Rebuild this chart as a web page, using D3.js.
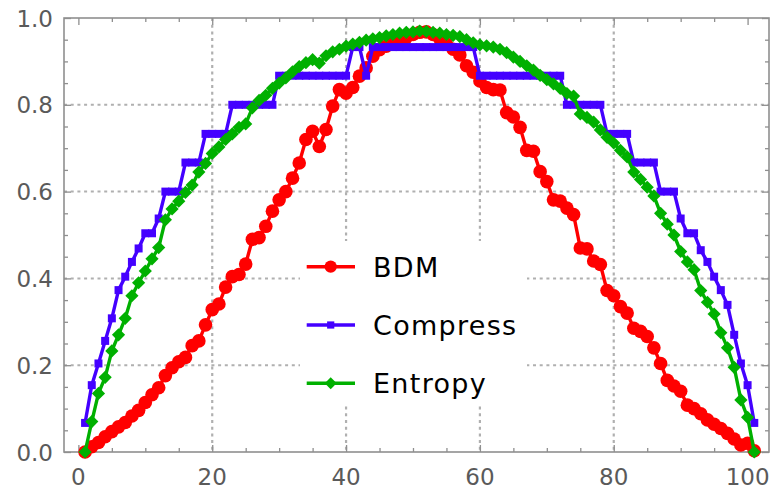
<!DOCTYPE html>
<html>
<head>
<meta charset="utf-8">
<script src="https://cdn.jsdelivr.net/npm/d3@7"></script>
<style>
  body { margin: 0; background: #fff; }
  text { font-family: "DejaVu Sans", "Liberation Sans", Arial, sans-serif; }
</style>
</head>
<body>
<div id="chart-area"></div>
<script>
// values for x = 1..101
const bdm = [
    0, 0.012, 0.022, 0.035, 0.047, 0.058, 0.068, 0.083, 0.096, 0.114,
    0.132, 0.148, 0.176, 0.194, 0.208, 0.218, 0.245, 0.256, 0.293, 0.328,
    0.341, 0.38, 0.404, 0.409, 0.433, 0.49, 0.494, 0.52, 0.555, 0.581,
    0.6, 0.631, 0.666, 0.72, 0.739, 0.704, 0.743, 0.797, 0.835, 0.827,
    0.84, 0.866, 0.885, 0.912, 0.927, 0.935, 0.942, 0.948, 0.955, 0.962,
    0.967, 0.968, 0.962, 0.952, 0.94, 0.928, 0.915, 0.89, 0.875, 0.855,
    0.84, 0.835, 0.834, 0.782, 0.772, 0.748, 0.695, 0.693, 0.646, 0.623,
    0.581, 0.578, 0.562, 0.547, 0.47, 0.468, 0.44, 0.432, 0.372, 0.36,
    0.335, 0.32, 0.285, 0.278, 0.266, 0.24, 0.204, 0.165, 0.152, 0.14,
    0.108, 0.1, 0.088, 0.074, 0.064, 0.054, 0.043, 0.03, 0.016, 0.02,
    0.003
];
const compress = [
    0.067, 0.154, 0.204, 0.256, 0.308, 0.373, 0.404, 0.438, 0.469, 0.504,
    0.504, 0.538, 0.6, 0.6, 0.6, 0.667, 0.667, 0.667, 0.733, 0.733,
    0.733, 0.733, 0.8, 0.8, 0.8, 0.8, 0.8, 0.8, 0.8, 0.867,
    0.867, 0.867, 0.867, 0.867, 0.867, 0.867, 0.867, 0.867, 0.867, 0.867,
    0.933, 0.933, 0.867, 0.933, 0.933, 0.933, 0.933, 0.933, 0.933, 0.933,
    0.933, 0.933, 0.933, 0.933, 0.933, 0.933, 0.933, 0.933, 0.933, 0.867,
    0.867, 0.867, 0.867, 0.867, 0.867, 0.867, 0.867, 0.867, 0.867, 0.867,
    0.867, 0.867, 0.8, 0.8, 0.8, 0.8, 0.8, 0.8, 0.733, 0.733,
    0.733, 0.733, 0.667, 0.667, 0.667, 0.667, 0.6, 0.6, 0.6, 0.538,
    0.504, 0.504, 0.465, 0.438, 0.404, 0.373, 0.339, 0.27, 0.204, 0.154,
    0.067
];
const entropy = [
    0, 0.07, 0.135, 0.172, 0.233, 0.27, 0.308, 0.36, 0.39, 0.417,
    0.445, 0.471, 0.535, 0.56, 0.578, 0.598, 0.615, 0.645, 0.665, 0.688,
    0.703, 0.72, 0.733, 0.748, 0.756, 0.793, 0.81, 0.822, 0.838, 0.85,
    0.862, 0.876, 0.888, 0.897, 0.904, 0.896, 0.913, 0.922, 0.928, 0.935,
    0.94, 0.944, 0.949, 0.952, 0.955, 0.959, 0.962, 0.965, 0.967, 0.968,
    0.97, 0.969, 0.967, 0.965, 0.962, 0.96, 0.957, 0.95, 0.943, 0.938,
    0.936, 0.933, 0.928, 0.92, 0.91, 0.9, 0.89, 0.88, 0.868, 0.858,
    0.848, 0.838, 0.826, 0.82, 0.779, 0.771, 0.76, 0.742, 0.725, 0.712,
    0.695, 0.68, 0.645, 0.628, 0.61, 0.59, 0.55, 0.525, 0.5, 0.462,
    0.438, 0.42, 0.372, 0.345, 0.318, 0.275, 0.24, 0.195, 0.12, 0.08,
    0
];
const xTicks = [0, 20, 40, 60, 80, 100];
const yTicks = [0, 0.2, 0.4, 0.6, 0.8, 1.0];
const xMinor = [0, 5, 10, 15, 20, 25, 30, 35, 40, 45, 50, 55, 60, 65, 70, 75, 80, 85, 90, 95, 100];
const yMinor = [0, 0.05, 0.1, 0.15, 0.2, 0.25, 0.3, 0.35, 0.4, 0.45, 0.5, 0.55, 0.6, 0.65, 0.7, 0.75, 0.8, 0.85, 0.9, 0.95, 1];
const seriesNames = ["BDM", "Compress", "Entropy"];

const width = 778;
const height = 489;
const margin = { left: 64, right: 9, top: 18, bottom: 37 };
const chartWidth = width - margin.left - margin.right;
const chartHeight = height - margin.top - margin.bottom;

const svg = d3.select('#chart-area')
    .append('svg')
    .attr('width', width)
    .attr('height', height);

const g = svg.append('g')
    .attr('transform', `translate(${margin.left}, ${margin.top})`);

const x = d3.scaleLinear().domain([-2.15, 103.2]).range([0, chartWidth]);
const y = d3.scaleLinear().domain([0, 1]).range([chartHeight, 0]);

const frameColor = '#8f8f8f';
const gridColor = '#b0b0b0';

// grid
g.selectAll('.vgrid')
    .data(xTicks.filter(d => d > 0 && d < 100))
    .enter().append('line')
    .attr('x1', d => x(d)).attr('x2', d => x(d))
    .attr('y1', 0).attr('y2', chartHeight)
    .attr('stroke', gridColor).attr('stroke-width', 2.2)
    .attr('stroke-dasharray', '3,3.7');

g.selectAll('.hgrid')
    .data(yTicks.filter(d => d > 0 && d < 1))
    .enter().append('line')
    .attr('x1', 0).attr('x2', chartWidth)
    .attr('y1', d => y(d)).attr('y2', d => y(d))
    .attr('stroke', gridColor).attr('stroke-width', 2)
    .attr('stroke-dasharray', '3,3.7');

// legend background hides the grid
g.append('rect')
    .attr('x', 300 - margin.left).attr('y', 241 - margin.top)
    .attr('width', 227).attr('height', 162)
    .attr('fill', '#fff');

// frame ticks (inward)
function frameAxis(axis, values, size, transform) {
    g.append('g')
        .attr('transform', transform)
        .call(axis.tickValues(values).tickSize(size).tickFormat(''))
        .call(a => a.select('.domain').remove())
        .selectAll('line').attr('stroke', frameColor).attr('stroke-width', 1.3);
}
const minorX = xMinor.filter(d => !xTicks.includes(d));
const minorY = yMinor.filter(d => !yTicks.some(t => Math.abs(t - d) < 1e-9));
frameAxis(d3.axisBottom(x), minorX, -4, `translate(0, ${chartHeight})`);
frameAxis(d3.axisBottom(x), xTicks, -7, `translate(0, ${chartHeight})`);
frameAxis(d3.axisTop(x), minorX, -4, 'translate(0, 0)');
frameAxis(d3.axisTop(x), xTicks, -7, 'translate(0, 0)');
frameAxis(d3.axisLeft(y), minorY, -4, 'translate(0, 0)');
frameAxis(d3.axisLeft(y), yTicks, -7, 'translate(0, 0)');
frameAxis(d3.axisRight(y), minorY, -4, `translate(${chartWidth}, 0)`);
frameAxis(d3.axisRight(y), yTicks, -7, `translate(${chartWidth}, 0)`);

g.append('rect')
    .attr('width', chartWidth).attr('height', chartHeight)
    .attr('fill', 'none')
    .attr('stroke', frameColor).attr('stroke-width', 1.6);

// tick labels
g.selectAll('.xlabel')
    .data(xTicks)
    .enter().append('text')
    .attr('x', d => x(d))
    .attr('y', chartHeight + 33)
    .attr('text-anchor', 'middle')
    .attr('font-size', 23)
    .attr('fill', '#5a5a5a')
    .text(d => d);

g.selectAll('.ylabel')
    .data(yTicks)
    .enter().append('text')
    .attr('x', -11)
    .attr('y', d => y(d) + 8.5)
    .attr('text-anchor', 'end')
    .attr('font-size', 23)
    .attr('fill', '#5a5a5a')
    .text(d => d3.format('.1f')(d));

// series
const colors = { BDM: '#ff0000', Compress: '#4400ff', Entropy: '#00b000' };
const seriesData = { BDM: bdm, Compress: compress, Entropy: entropy };

const line = d3.line()
    .x((d, i) => x(i + 1))
    .y(d => y(d));

function drawMarker(sel, name, scale) {
    if (name === 'BDM') {
        sel.append('circle').attr('r', 6.8 * scale).attr('fill', colors[name]);
    } else if (name === 'Compress') {
        sel.append('rect')
            .attr('x', -4 * scale).attr('y', -4 * scale)
            .attr('width', 8 * scale).attr('height', 8 * scale)
            .attr('fill', colors[name]);
    } else {
        const s = 6.6 * scale;
        sel.append('path')
            .attr('d', `M0,${-s}L${s},0L0,${s}L${-s},0Z`)
            .attr('fill', colors[name]);
    }
}

seriesNames.forEach(name => {
    const vals = seriesData[name];
    g.append('path')
        .datum(vals)
        .attr('fill', 'none')
        .attr('stroke', colors[name])
        .attr('stroke-width', 3.4)
        .attr('stroke-linejoin', 'round')
        .attr('d', line);

    g.selectAll('.m-' + name)
        .data(vals)
        .enter().append('g')
        .attr('transform', (d, i) => `translate(${x(i + 1)}, ${y(d)})`)
        .each(function () { drawMarker(d3.select(this), name, 1); });
});

// legend
const legendRows = [266.7, 325, 383.3];
seriesNames.forEach((name, i) => {
    const ly = legendRows[i] - margin.top;
    g.append('line')
        .attr('x1', 306.7 - margin.left).attr('x2', 355 - margin.left)
        .attr('y1', ly).attr('y2', ly)
        .attr('stroke', colors[name]).attr('stroke-width', 3.4);
    const m = g.append('g').attr('transform', `translate(${330.7 - margin.left}, ${ly})`);
    drawMarker(m, name, 0.9);
    g.append('text')
        .attr('x', 373 - margin.left)
        .attr('y', ly + 10)
        .attr('font-size', 27)
        .attr('letter-spacing', 1.3)
        .attr('fill', '#000')
        .text(name);
});
</script>
</body>
</html>
